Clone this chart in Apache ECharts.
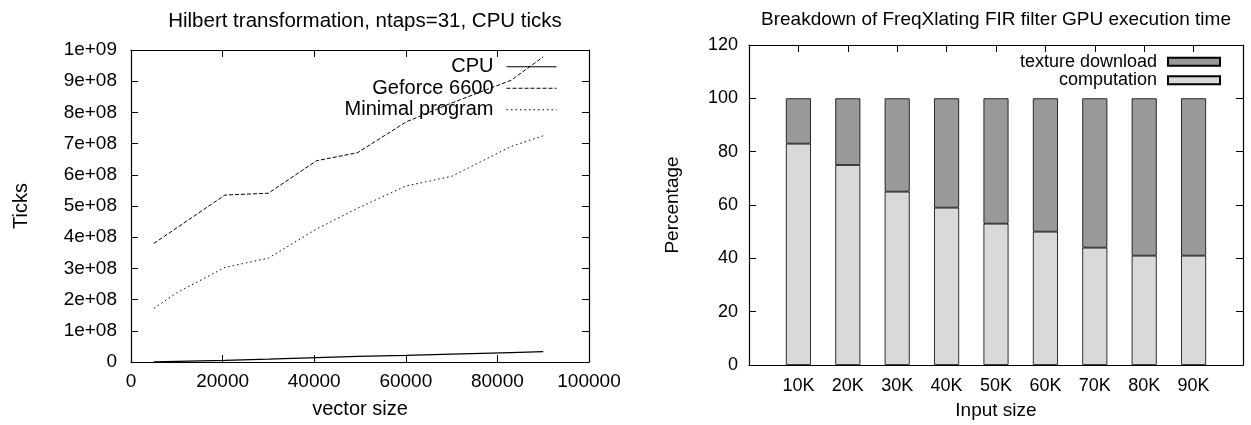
<!DOCTYPE html>
<html>
<head>
<meta charset="utf-8">
<script src="https://cdn.jsdelivr.net/npm/echarts@6/dist/echarts.min.js"></script>
<style>
html,body{margin:0;padding:0;background:#fff;}
#c{width:1251px;height:425px;}
</style>
</head>
<body>
<div id="c"></div>
<script>
// ---- Left chart data ----
const vectorSizes = [5000, 10000, 20500, 30000, 40500, 49500, 60000, 70000, 83000, 90000];
const cpuTicks      = [0.5e6, 2e6, 5.5e6, 9e6, 14e6, 18e6, 21e6, 25e6, 30e6, 33e6];
const geforceTicks  = [3.80e8, 4.30e8, 5.35e8, 5.41e8, 6.45e8, 6.71e8, 7.69e8, 8.30e8, 9.03e8, 9.78e8];
const minimalTicks  = [1.72e8, 2.22e8, 3.03e8, 3.33e8, 4.26e8, 4.93e8, 5.64e8, 5.95e8, 6.91e8, 7.25e8];
const leftYTickLabels = ['0','1e+08','2e+08','3e+08','4e+08','5e+08','6e+08','7e+08','8e+08','9e+08','1e+09'];
const leftXTickLabels = ['0','20000','40000','60000','80000','100000'];

// ---- Right chart data ----
const inputSizes = ['', '10K', '20K', '30K', '40K', '50K', '60K', '70K', '80K', '90K', ''];
const computationPct = [null, 83, 75, 65, 59, 53, 50, 44, 41, 41, null];
const texturePct     = [null, 17, 25, 35, 41, 47, 50, 56, 59, 59, null];
const rightYTickLabels = ['0','20','40','60','80','100','120'];

const FONT = 'Liberation Sans, Arial, Helvetica, sans-serif';

function pairs(xs, ys){ return xs.map((x,i)=>[x, ys[i]]); }

const tickStyle = {show:true, inside:true, length:7, lineStyle:{color:'#000', width:1}};
const lineAxis = {show:true, onZero:false, lineStyle:{color:'#000', width:1.2}};

const chart = echarts.init(document.getElementById('c'), null, {renderer:'canvas'});
chart.setOption({
  backgroundColor:'#fff',
  animation:false,
  textStyle:{fontFamily:FONT},
  title:[
    {text:'Hilbert transformation, ntaps=31, CPU ticks', left:360, top:6, textAlign:'center',
     textStyle:{fontFamily:FONT, fontSize:20.5, fontWeight:'normal', color:'#000'}},
    {text:'Breakdown of FreqXlating FIR filter GPU execution time', left:991, top:5, textAlign:'center',
     textStyle:{fontFamily:FONT, fontSize:19, fontWeight:'normal', color:'#000'}}
  ],
  legend:[
    {orient:'vertical', align:'right', right:694, top:56, padding:0, itemWidth:50, itemHeight:14, itemGap:0,
     itemStyle:{opacity:0}, lineStyle:{width:1},
     data:['CPU','Geforce 6600','Minimal program'],
     textStyle:{fontFamily:FONT, fontSize:20, color:'#000', lineHeight:21.5, padding:[0,8,0,0]}},
    {orient:'vertical', align:'right', right:30, top:52.5, padding:0, itemWidth:52, itemHeight:8, itemGap:0,
     icon:'rect',
     data:['texture download','computation'],
     textStyle:{fontFamily:FONT, fontSize:18, color:'#000', lineHeight:18.5, padding:[0,6,0,0]}}
  ],
  grid:[
    {left:131, top:50, width:458, height:312},
    {left:749, top:45, width:494, height:322}
  ],
  xAxis:[
    {type:'value', gridIndex:0, min:0, max:100000, interval:20000, position:'bottom',
     name:'vector size', nameLocation:'middle', nameGap:37,
     nameTextStyle:{fontFamily:FONT, fontSize:20, color:'#000'},
     axisLine:lineAxis, axisTick:tickStyle, splitLine:{show:false},
     axisLabel:{fontFamily:FONT, fontSize:19, color:'#000', margin:10,
       formatter:v=>leftXTickLabels[Math.round(v/20000)]}},
    {type:'value', gridIndex:0, min:0, max:100000, interval:20000, position:'top',
     axisLine:lineAxis, axisTick:tickStyle, splitLine:{show:false}, axisLabel:{show:false}},
    {type:'category', gridIndex:1, data:inputSizes, boundaryGap:false, position:'bottom',
     name:'Input size', nameLocation:'middle', nameGap:36,
     nameTextStyle:{fontFamily:FONT, fontSize:19, color:'#000'},
     axisLine:lineAxis, axisTick:{show:false}, splitLine:{show:false},
     axisLabel:{fontFamily:FONT, fontSize:18, color:'#000', margin:12, interval:0}},
    {type:'category', gridIndex:1, data:inputSizes, boundaryGap:false, position:'top',
     axisLine:lineAxis, splitLine:{show:false}, axisLabel:{show:false},
     axisTick:{show:true, inside:true, length:7, lineStyle:{color:'#000'},
       interval:(i)=>i>0 && i<inputSizes.length-1}}
  ],
  yAxis:[
    {type:'value', gridIndex:0, min:0, max:1e9, interval:1e8, position:'left',
     name:'Ticks', nameLocation:'middle', nameGap:100, nameRotate:90,
     nameTextStyle:{fontFamily:FONT, fontSize:20, color:'#000'},
     axisLine:lineAxis, axisTick:tickStyle, splitLine:{show:false},
     axisLabel:{fontFamily:FONT, fontSize:19, color:'#000', margin:14,
       formatter:v=>leftYTickLabels[Math.round(v/1e8)]}},
    {type:'value', gridIndex:0, min:0, max:1e9, interval:1e8, position:'right',
     axisLine:lineAxis, axisTick:tickStyle, splitLine:{show:false}, axisLabel:{show:false}},
    {type:'value', gridIndex:1, min:0, max:120, interval:20, position:'left',
     name:'Percentage', nameLocation:'middle', nameGap:67, nameRotate:90,
     nameTextStyle:{fontFamily:FONT, fontSize:19, color:'#000'},
     axisLine:lineAxis, axisTick:tickStyle, splitLine:{show:false},
     axisLabel:{fontFamily:FONT, fontSize:18, color:'#000', margin:11,
       formatter:v=>rightYTickLabels[Math.round(v/20)]}},
    {type:'value', gridIndex:1, min:0, max:120, interval:20, position:'right',
     axisLine:lineAxis, axisTick:tickStyle, splitLine:{show:false}, axisLabel:{show:false}}
  ],
  series:[
    {name:'CPU', type:'line', xAxisIndex:0, yAxisIndex:0, data:pairs(vectorSizes, cpuTicks),
     symbol:'none', lineStyle:{color:'#000', width:1.2, type:'solid'}, itemStyle:{color:'#000'}},
    {name:'Geforce 6600', type:'line', xAxisIndex:0, yAxisIndex:0, data:pairs(vectorSizes, geforceTicks),
     symbol:'none', lineStyle:{color:'#000', width:1, type:[4,2]}, itemStyle:{color:'#000'}},
    {name:'Minimal program', type:'line', xAxisIndex:0, yAxisIndex:0, data:pairs(vectorSizes, minimalTicks),
     symbol:'none', lineStyle:{color:'#000', width:1, type:[1.5,3]}, itemStyle:{color:'#000'}},
    {name:'computation', type:'bar', xAxisIndex:2, yAxisIndex:2, stack:'s', data:computationPct,
     barWidth:25, itemStyle:{color:'#d9d9d9', borderColor:'#000', borderWidth:0.8}},
    {name:'texture download', type:'bar', xAxisIndex:2, yAxisIndex:2, stack:'s', data:texturePct,
     barWidth:25, itemStyle:{color:'#999999', borderColor:'#000', borderWidth:0.8}}
  ]
});
</script>
</body>
</html>
